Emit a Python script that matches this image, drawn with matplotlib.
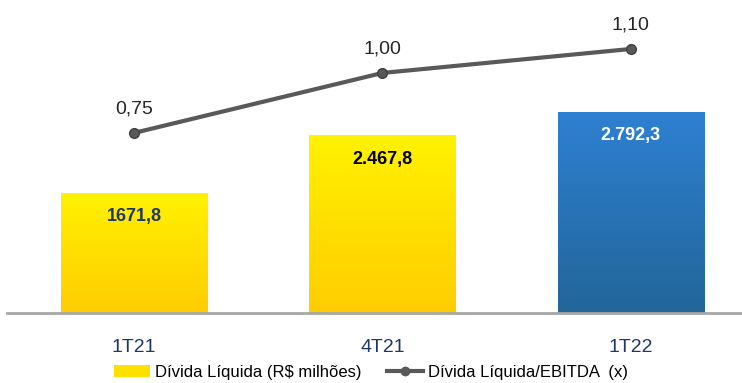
import numpy as np
import matplotlib.pyplot as plt
from matplotlib.colors import LinearSegmentedColormap
from matplotlib.patches import Patch
from matplotlib.lines import Line2D

periodos = ["1T21", "4T21", "1T22"]
divida = [1671.8, 2467.8, 2792.3]
divida_lbl = ["1671,8", "2.467,8", "2.792,3"]
alav = [0.75, 1.00, 1.10]
alav_lbl = ["0,75", "1,00", "1,10"]

plt.rcParams['font.family'] = ['Liberation Sans', 'DejaVu Sans']

fig = plt.figure(figsize=(7.42, 3.83), dpi=100)
ax = fig.add_axes([0.0094, 0.183, 0.9906, 0.817])

amarelo = LinearSegmentedColormap.from_list("am", ["#FFCC00", "#FFF200"])
azul = LinearSegmentedColormap.from_list("az", ["#22669A", "#2F80D2"])
cores_txt = ["#1F3864", "black", "white"]

x = np.arange(len(periodos))
w = 0.59
bars = ax.bar(x, divida, width=w, color="none", zorder=2)
grad = np.linspace(0, 1, 256).reshape(-1, 1)
for i, b in enumerate(bars):
    cm = azul if i == 2 else amarelo
    im = ax.imshow(grad, cmap=cm, origin="lower", aspect="auto",
                   extent=[b.get_x(), b.get_x() + w, 0, b.get_height()], zorder=2)
    im.set_clip_path(b)
    ax.text(b.get_x() + w / 2, b.get_height() - 330, divida_lbl[i], ha="center", va="center",
            fontsize=13, fontweight="bold", color=cores_txt[i], zorder=4)

ax.set_xlim(-0.511, 2.447)
ax.set_ylim(0, 4348)
for s in ["top", "right", "left"]:
    ax.spines[s].set_visible(False)
ax.spines["bottom"].set_color("#A6A6A6")
ax.spines["bottom"].set_linewidth(2)
ax.set_yticks([])
ax.set_xticks(x)
ax.set_xticklabels(periodos, fontsize=14, color="#1F3864")
ax.tick_params(axis="x", length=0, pad=19)

ax2 = ax.twinx()
ax2.set_ylim(0, 1.304)
ax2.axis("off")
ax2.plot(x, alav, color="#595959", lw=3, marker="o", ms=7,
         markerfacecolor="#595959", markeredgecolor="#404040", zorder=5)
for i, v in enumerate(alav):
    ax2.text(x[i], v + 0.1, alav_lbl[i], ha="center", va="center", fontsize=14, color="#262626")
ax2.set_xlim(-0.511, 2.447)

handles = [Patch(facecolor="#FFE000", edgecolor="none"),
           Line2D([0], [0], color="#595959", lw=3, marker="o", ms=6)]
fig.legend(handles, ["Dívida Líquida (R$ milhões)", "Dívida Líquida/EBITDA  (x)"],
           loc="lower center", bbox_to_anchor=(0.5, 0.0), ncol=2, frameon=False,
           fontsize=12, handlelength=2.2, columnspacing=1.5, handletextpad=0.3,
           borderpad=0.1, borderaxespad=0.1)

fig.savefig("out.png", dpi=100)
